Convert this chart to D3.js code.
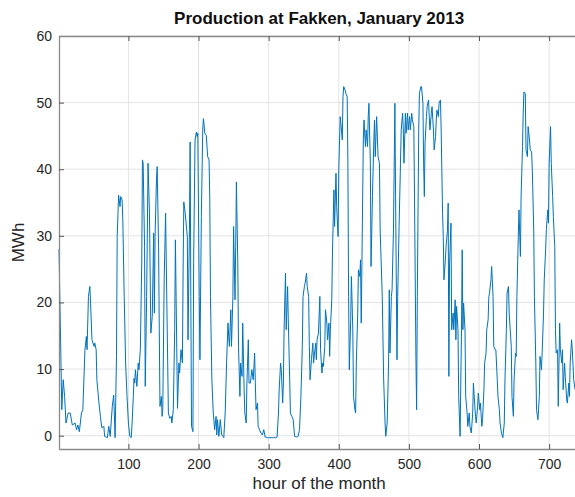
<!DOCTYPE html>
<html>
<head>
<meta charset="utf-8">
<script src="https://cdnjs.cloudflare.com/ajax/libs/d3/7.8.5/d3.min.js"></script>
<style>
    body { margin: 0; background: #fff; }
    #fakken text { font-family: "Liberation Sans", Arial, sans-serif; fill: #262626; }
</style>
</head>
<body>
<div id="fakken"></div>
<script>
// hours (hour of the month)
const hours = [
    1, 5, 7, 9, 11, 14, 17, 20, 24, 26, 28, 30, 33, 35, 38, 40, 41, 43, 45, 46, 48, 51, 52, 54, 55, 58, 60, 62, 65, 66, 70, 72, 74, 77, 79, 81, 83, 84, 86, 88,
    89, 91, 92, 94, 96, 98, 100, 102, 104, 105, 107, 108, 109, 110, 112, 114, 115, 117, 119, 120, 121, 123, 124, 126, 128, 130, 132, 134, 136, 137, 138, 140, 141, 143, 144, 145, 147, 148, 149, 151, 153, 154, 156, 157, 159, 161, 162, 164, 166, 167, 168, 170, 172, 173, 175, 177, 178, 179, 181,
    184, 185, 187, 188, 189, 190, 192, 193, 195, 197, 198, 199, 201, 202, 204, 206, 207, 209, 211, 213, 215, 216, 217, 219, 221, 223, 225, 226, 227, 229, 231, 233, 235, 236, 238, 240, 242, 243, 244, 246, 247, 249, 250, 252, 253, 254, 256, 257, 259, 260, 262, 263, 265, 266, 268, 269, 271, 272,
    274, 276, 278, 280, 281, 282, 284, 285, 287, 289, 291, 293, 295, 298, 300, 302, 305, 307, 310, 312, 314, 315, 317, 318, 320, 321, 322, 324, 325, 327, 328, 330, 331, 333, 335, 337, 340, 342, 344, 346, 348, 349, 351, 352, 354, 355, 357, 358, 359, 361, 363, 364, 366,
    367, 368, 369, 371, 373, 374, 376, 377, 378, 380, 381, 383, 384, 386, 387, 388, 390, 391, 393, 394, 396, 397, 399, 400, 402, 403, 405, 406, 407, 409, 410, 412, 413, 414, 415, 417, 418, 420, 421, 423, 424, 425, 427, 428, 430, 431, 432, 433, 435, 436, 438, 439, 441, 442, 443, 445, 446, 448, 450, 451, 452, 454, 456, 458,
    459, 462, 464, 466, 467, 469, 471, 472, 473, 475, 476, 478, 480, 481, 483, 484, 486, 488, 489, 491, 492, 493, 495, 496, 498, 499, 501, 502, 504, 505, 507, 508, 510, 511, 512, 514, 515, 517, 518, 520, 521, 522, 523, 525, 526, 528, 529, 530, 532, 533, 535, 536, 538, 539, 540, 542, 543, 545, 546, 548, 549, 550,
    552, 553, 555, 556, 557, 558, 560, 561, 563, 564, 566, 567, 568, 570, 571, 573, 575, 576, 577, 578, 580, 581, 583, 584, 586, 587, 589, 591, 592, 594, 595, 596, 598, 599, 601, 602, 604, 605, 607, 608, 610, 611, 613, 614, 615, 617, 618, 620, 621, 623, 624, 626, 627, 629, 630, 632, 634, 636, 637, 639, 640, 642, 643,
    646, 647, 649, 650, 652, 653, 654, 656, 657, 659, 660, 662, 663, 664, 666, 667, 669, 670, 672, 673, 675, 676, 678, 679, 681, 682, 684, 686, 687, 689, 690, 692, 693, 695, 696, 698, 699, 700, 702, 703, 705, 706, 708, 709, 710, 712, 713, 715, 716, 718, 719, 720, 722, 723, 725, 726, 728, 729, 730, 732, 733, 735, 737
];

// production in MWh, same order as hours
const mwh = [
    28, 3.9, 8.4, 5.9, 1.9, 3.4, 3.4, 1.6, 1.9, 0.9, 1.6, 0.6, 3.4, 3.9, 12.9, 14.9, 12.9, 20.9, 22.4, 19.9, 14.4, 13.4, 13.9, 12.9, 8.4, 4.9, 2.9, 1.2, 1.4, -0.1, -0.3, 1.4, -0.1, 4.4, 6.1, -0.3, 11.9, 29.9, 36.1, 34.4,
    35.9, 35.4, 32.4, 20.9, 10.9, 5.9, 1.9, -0.1, -0.3, 1.4, 5.9, 8.6, 7.9, 9.9, 7.4, 10.9, 9.9, 12.9, 25.9, 41.4, 40.9, 28.4, 7.4, 20.9, 40.9, 33.4, 15.4, 17.9, 30.4, 18.4, 29.9, 38.4, 40.4, 28.4, 15.9, 4.4, 5.9, 2.9, 3.9, 23.4, 33.4, 25.9, 10.9, 3.4, 2.6, 2.9, 1.9, 3.9, 15.9, 29.4, 20.9, 4.1, 10.9, 9.4, 12.9, 10.9, 24.9, 35.1, 33.4,
    29.9, 14.4, 30.9, 44.1, 20.9, 1.4, 0.6, 25.9, 44.4, 45.6, 44.9, 45.4, 20.9, 11.4, 32.9, 45.9, 47.6, 45.4, 45.1, 41.9, 41.4, 35.9, 20.9, 8.4, 3.4, 0.9, 2.9, 0.1, 2.4, -0.1, 2.4, 0.1, -0.1, -0.3, 3.4, 10.9, 16.9, 14.9, 13.4, 18.9, 13.4, 20.9, 31.4, 20.4, 28.4, 38.1, 25.9, 13.4, 5.9, 10.9, 8.9, 16.9, 6.9, 3.4, 1.9, 7.9, 14.4, 7.9,
    7.9, 9.9, 8.4, 12.4, 7.9, 3.9, 4.9, 1.4, 0.9, 0.4, 0.1, 0.9, -0.2, -0.3, -0.3, -0.3, -0.3, -0.3, -0.3, -0.2, 3.4, 6.9, 10.9, 9.9, 4.9, 7.9, 15.9, 24.4, 15.9, 22.4, 17.4, 8.4, 3.4, 2.9, 2.4, -0.1, -0.2, -0.1, 0.9, 5.9, 13.4, 20.9, 22.4, 22.9, 24.4, 22.4, 20.9, 13.4, 8.4, 11.4, 13.9, 10.9, 12.9,
    13.9, 11.4, 14.4, 15.4, 20.9, 12.9, 9.4, 10.9, 10.4, 13.4, 18.9, 16.9, 14.4, 16.9, 11.9, 15.9, 20.4, 27.4, 36.9, 31.4, 39.4, 34.4, 29.9, 39.9, 47.9, 46.9, 44.4, 50.9, 52.4, 51.9, 51.4, 50.9, 40.9, 20.9, 9.9, 17.4, 23.9, 15.9, 5.9, 3.9, 3.4, 10.9, 18.4, 24.9, 23.9, 26.4, 16.9, 25.9, 44.4, 47.4, 43.4, 45.9, 43.4, 47.9, 49.9, 40.9, 25.4, 35.9, 44.4, 47.4, 41.9, 47.9, 41.9, 40.9,
    30.9, 20.9, 8.4, 1.9, -0.1, 1.9, 10.9, 21.9, 12.4, 20.9, 21.9, 30.9, 49.9, 35.9, 11.4, 20.9, 31.4, 40.9, 45.9, 48.4, 45.9, 40.9, 48.4, 45.4, 48.4, 45.9, 47.9, 45.9, 48.4, 47.4, 46.4, 35.9, 11.9, 3.9, 20.9, 45.9, 51.4, 52.4, 52.4, 49.9, 40.9, 35.9, 43.9, 47.9, 49.4, 50.4, 47.9, 45.9, 48.4, 49.4, 45.9, 42.9, 44.9, 47.4, 48.9, 47.9, 49.9, 50.4, 45.9, 33.4, 29.9, 23.4,
    26.4, 28.4, 30.9, 34.9, 8.9, 25.9, 31.9, 15.9, 18.4, 15.9, 20.4, 14.4, 19.4, 15.9, 5.9, -0.1, 15.9, 27.9, 15.9, 19.9, 15.9, 5.9, 3.4, 1.4, 3.4, 1.4, 0.4, 3.4, 7.9, 4.4, 2.9, 1.9, 4.4, 6.4, 3.9, 4.9, 1.4, 2.4, 6.9, 10.9, 12.4, 15.9, 17.4, 20.9, 21.4, 23.4, 25.4, 20.9, 13.4, 12.9, 12.9, 8.4, 5.9, 3.9, 1.9, 0.4, -0.3, 1.9, 8.4, 15.9, 21.4, 22.4, 18.4,
    13.4, 5.9, 2.9, 8.4, 12.4, 11.9, 20.9, 29.9, 33.9, 26.9, 35.9, 43.4, 48.4, 51.6, 51.4, 42.9, 41.9, 46.4, 44.4, 42.9, 42.6, 39.9, 30.9, 20.9, 10.9, 3.9, 2.4, 5.9, 11.9, 9.9, 12.4, 18.4, 23.4, 27.9, 30.9, 33.9, 31.9, 40.9, 46.4, 40.9, 35.9, 32.9, 28.4, 15.9, 12.4, 12.9, 4.4, 16.9, 12.9, 10.9, 12.9, 6.9, 10.9, 8.9, 5.4, 4.9, 7.9, 5.9, 10.9, 14.4, 12.9, 8.4, 6.9
];

const xTicks = [100, 200, 300, 400, 500, 600, 700];
const yTicks = [0, 10, 20, 30, 40, 50, 60];

const W = 575, H = 497;
// the box goes a little past the right edge of the picture
const margin = { top: 36, right: -5, bottom: 48, left: 59 };
const width = W - margin.left - margin.right;
const height = H - margin.top - margin.bottom;

const xScale = d3.scaleLinear().domain([1, 744]).range([0, width]);
const yScale = d3.scaleLinear().domain([-2, 60]).range([height, 0]);

let svg = d3.select('#fakken').append('svg')
    .attr('width', W)
    .attr('height', H);

let chart = svg.append('g').classed('chart', true)
    .attr('transform', 'translate(' + margin.left + ',' + margin.top + ')');

// grid
chart.append('g').selectAll('line.vg').data(xTicks).enter().append('line')
    .attr('x1', d => xScale(d)).attr('x2', d => xScale(d))
    .attr('y1', 0).attr('y2', height)
    .attr('stroke', '#e3e3e3').attr('stroke-width', 1);
chart.append('g').selectAll('line.hg').data(yTicks).enter().append('line')
    .attr('y1', d => yScale(d)).attr('y2', d => yScale(d))
    .attr('x1', 0).attr('x2', width)
    .attr('stroke', '#e3e3e3').attr('stroke-width', 1);

// the series
let line = d3.line()
    .x((d, i) => xScale(hours[i]))
    .y(d => yScale(d));

chart.append('path').datum(mwh)
    .attr('fill', 'none')
    .attr('stroke', '#0072bd')
    .attr('stroke-width', 1)
    .attr('stroke-linejoin', 'round')
    .attr('d', line);

// axes, matlab style: ticks inside, box all round
let xAxis = d3.axisBottom(xScale).tickValues(xTicks).tickSizeInner(-5).tickSizeOuter(0).tickPadding(10);
let yAxis = d3.axisLeft(yScale).tickValues(yTicks).tickSizeInner(-5).tickSizeOuter(0).tickPadding(7);
let xTop = d3.axisTop(xScale).tickValues(xTicks).tickSizeInner(-5).tickSizeOuter(0).tickFormat('');

let gx = chart.append('g').attr('transform', 'translate(0,' + height + ')').call(xAxis);
let gy = chart.append('g').call(yAxis);
let gt = chart.append('g').call(xTop);

[gx, gy, gt].forEach(function (g) {
    g.select('.domain').attr('stroke', '#8a8a8a').attr('stroke-width', 1.3);
    g.selectAll('.tick line').attr('stroke', '#555');
    g.selectAll('.tick text').style('font-size', '14px').attr('fill', '#333');
});

// titles
svg.append('text')
    .attr('x', margin.left + xScale(372))
    .attr('y', 24)
    .attr('text-anchor', 'middle')
    .style('font-size', '17px')
    .style('font-weight', 'bold')
    .style('fill', '#111')
    .text('Production at Fakken, January 2013');

svg.append('text')
    .attr('x', margin.left + xScale(372))
    .attr('y', 489)
    .attr('text-anchor', 'middle')
    .style('font-size', '17px')
    .text('hour of the month');

svg.append('text')
    .attr('transform', 'translate(24,' + (margin.top + yScale(29)) + ') rotate(-90)')
    .attr('text-anchor', 'middle')
    .style('font-size', '17px')
    .text('MWh');
</script>
</body>
</html>
